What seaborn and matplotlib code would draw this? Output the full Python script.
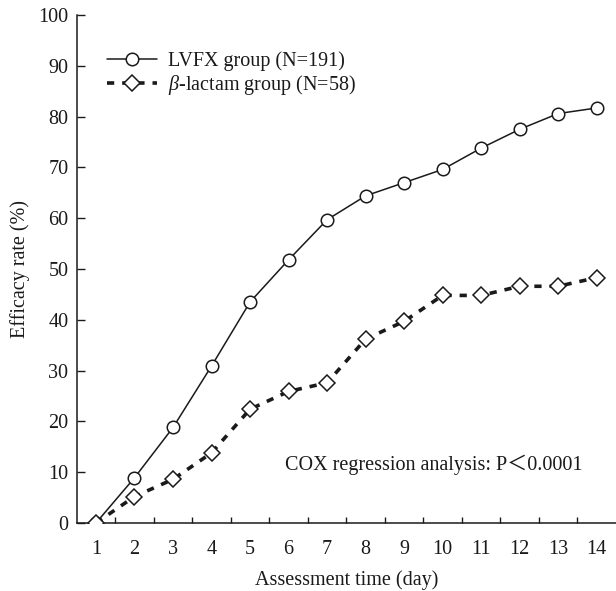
import matplotlib
matplotlib.use("Agg")
import matplotlib.pyplot as plt
import seaborn as sns
import pandas as pd
from matplotlib.ticker import FixedLocator

days = list(range(1, 15))
lvfx = [0, 8.9, 18.8, 30.9, 43.5, 51.8, 59.7, 64.4, 67.0, 69.6, 73.8, 77.5, 80.6, 81.7]
blactam = [0, 5.2, 8.6, 13.8, 22.4, 25.9, 27.6, 36.2, 39.7, 44.8, 44.8, 46.6, 46.6, 48.3]
label_lvfx = "LVFX group (N=191)"
label_bl = r"$\beta$-lactam group (N=58)"
xlabel = "Assessment time (day)"
ylabel = "Efficacy rate (%)"
note = "COX regression analysis: P＜0.0001"
yticks = [0, 10, 20, 30, 40, 50, 60, 70, 80, 90, 100]

sns.set_theme(style="ticks")
plt.rcParams["font.family"] = ["Liberation Serif", "Noto Sans CJK JP"]
plt.rcParams["mathtext.fontset"] = "custom"
plt.rcParams["mathtext.it"] = "Liberation Serif:italic"
plt.rcParams["mathtext.rm"] = "Liberation Serif"

FS = 14.5
fig = plt.figure(figsize=(6.16, 5.91), dpi=100)
ax = fig.add_axes([76.7/616, 1-523/591, (616-76.7)/616, (523-15)/591])

df1 = pd.DataFrame({"day": days, "rate": lvfx})
df2 = pd.DataFrame({"day": days, "rate": blactam})

sns.lineplot(data=df1, x="day", y="rate", ax=ax, color="#1a1a1a", linewidth=1.1,
             marker="o", markersize=9, markerfacecolor="white",
             markeredgecolor="#1a1a1a", markeredgewidth=1.1, label=label_lvfx)
sns.lineplot(data=df2, x="day", y="rate", ax=ax, color="#1a1a1a", linewidth=2.6,
             marker="D", markersize=8.5, markerfacecolor="white",
             markeredgecolor="#1a1a1a", markeredgewidth=1.1, label=label_bl)
ax.lines[1].set_dashes((2.0, 2.2))
ax.lines[1].set_zorder(3)

ax.set_xlim(0.5, 14.5)
ax.set_ylim(0, 100)
ax.set_xticks(days)
ax.set_xticklabels([str(d) for d in days], fontsize=FS)
ax.xaxis.set_minor_locator(FixedLocator([d + 0.5 for d in days[:-1]]))
ax.tick_params(axis="x", which="major", length=0, pad=12, labelsize=FS, colors="#1a1a1a")
ax.tick_params(axis="x", which="minor", direction="in", length=4.5, width=1, color="#1a1a1a")
ax.set_yticks(yticks)
ax.tick_params(axis="y", which="major", direction="in", length=5.5, width=1, pad=6,
               labelsize=FS, colors="#1a1a1a")

for s in ["top", "right"]:
    ax.spines[s].set_visible(False)
for s in ["left", "bottom"]:
    ax.spines[s].set_linewidth(1.1)
    ax.spines[s].set_color("#1a1a1a")

ax.set_xlabel(xlabel, fontsize=FS, labelpad=8, color="#1a1a1a")
ax.set_ylabel(ylabel, fontsize=FS, labelpad=6, color="#1a1a1a")

leg = ax.legend(loc="upper left", bbox_to_anchor=(0.056, 0.929), frameon=False,
                fontsize=FS, handlelength=2.5, handletextpad=0.55, labelspacing=0.12,
                borderpad=0, borderaxespad=0)
for t in leg.get_texts():
    t.set_color("#1a1a1a")

ax.text(5.91, 11.4, note, fontsize=FS, ha="left", va="center", color="#1a1a1a")

fig.savefig("out.png", dpi=100)
